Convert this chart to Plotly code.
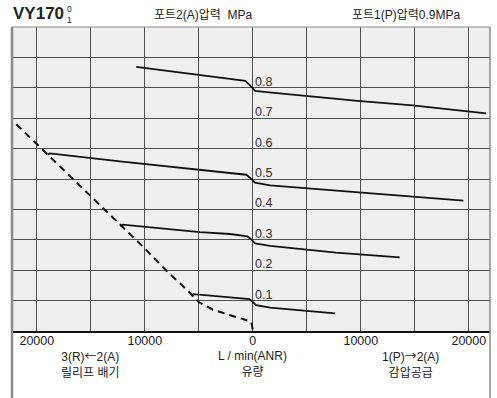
import plotly.graph_objects as go

# ---------------- data ----------------
# signed flow: negative = 3(R)<-2(A) relief exhaust, positive = 1(P)->2(A) supply
x_ticks = [-20000, -15000, -10000, -5000, 0, 5000, 10000, 15000, 20000]
x_tick_text = ["20000", "", "10000", "", "0", "", "10000", "", "20000"]

c08_x = [-10800, -5200, -700, -120, 200, 1500, 5000, 9700, 14800, 21600]
c08_y = [0.869, 0.844, 0.823, 0.803, 0.790, 0.785, 0.773, 0.757, 0.742, 0.716]

c05_x = [-19000, -18800, -12100, -4900, -2100, -600, -100, 200, 1600, 9700, 14800, 19500]
c05_y = [0.580, 0.584, 0.557, 0.530, 0.520, 0.514, 0.499, 0.488, 0.479, 0.456, 0.442, 0.429]

c03_x = [-12250, -12050, -4900, -2100, -500, -100, 200, 1600, 7700, 13600]
c03_y = [0.343, 0.350, 0.325, 0.319, 0.311, 0.300, 0.288, 0.280, 0.258, 0.242]

c01_x = [-5700, -5500, -300, 0, 300, 1600, 7600]
c01_y = [0.117, 0.121, 0.105, 0.095, 0.085, 0.077, 0.058]

relief_x = [-21900, -19400, -16800, -15100, -12000, -10100, -8000, -6000, -5000,
            -3700, -2100, -600, -150, 0]
relief_y = [0.680, 0.594, 0.506, 0.446, 0.341, 0.275, 0.198, 0.132, 0.095,
            0.070, 0.052, 0.035, 0.031, 0.003]

pressure_labels = [0.1, 0.2, 0.3, 0.4, 0.5, 0.6, 0.7, 0.8]

FONT = "Liberation Sans, Arial, Noto Sans CJK KR, sans-serif"
ARROW = "<span style=\"font-family:'Noto Sans CJK KR'\">{}</span>"

fig = go.Figure()
for xs, ys in [(c08_x, c08_y), (c05_x, c05_y), (c03_x, c03_y), (c01_x, c01_y)]:
    fig.add_trace(go.Scatter(x=xs, y=ys, mode="lines",
                             line=dict(color="#111111", width=1.8),
                             showlegend=False, hoverinfo="skip"))
fig.add_trace(go.Scatter(x=relief_x, y=relief_y, mode="lines",
                         line=dict(color="#111111", width=2, dash="7px,5px"),
                         showlegend=False, hoverinfo="skip"))

annotations = []
for v in pressure_labels:
    annotations.append(dict(x=0, y=v, xref="x", yref="y", text=f"{v:.1f}",
                            showarrow=False, xanchor="left", yanchor="bottom",
                            yshift=-3, font=dict(family=FONT, size=12.5, color="#333333")))

def pa(text, x, y, size=11, xanchor="center", bold=False):
    annotations.append(dict(x=x, y=y, xref="paper", yref="paper",
                            text=f"<b>{text}</b>" if bold else text,
                            showarrow=False, xanchor=xanchor, yanchor="middle",
                            font=dict(family=FONT, size=size, color="#222222")))

W, L = 478.0, 12.0
H, B = 304.0, 331.0
def px(xp): return (xp - L) / W
def py(yp): return (B - yp) / H

pa("VY170", px(11), py(14), size=17, xanchor="left", bold=True)
pa("0<br>1", px(69.5), py(14.5), size=8.5)
pa("포트2(A)압력  MPa", px(203), py(15), size=12)
pa("포트1(P)압력0.9MPa", px(406), py(15), size=12)
pa("3(R)" + ARROW.format("←") + "2(A)<br>릴리프 배기", px(90), py(363.5), size=12)
pa("L / min(ANR)<br>유량", px(252), py(363.5), size=12)
pa("1(P)" + ARROW.format("→") + "2(A)<br>감압공급", px(410), py(363.5), size=12)

shapes = [
    dict(type="line", xref="paper", yref="paper", x0=0, x1=0, y0=-0.3, y1=1,
         line=dict(color="#8a8a8a", width=2.5)),
    dict(type="line", xref="paper", yref="paper", x0=1, x1=1, y0=-0.3, y1=1,
         line=dict(color="#8a8a8a", width=1.5)),
    dict(type="line", xref="paper", yref="paper", x0=0, x1=1, y0=1, y1=1,
         line=dict(color="#8a8a8a", width=1.2)),
]

fig.update_layout(
    width=497, height=398,
    margin=dict(l=12, r=7, t=27, b=67),
    paper_bgcolor="white", plot_bgcolor="#efefef",
    annotations=annotations, shapes=shapes,
    font=dict(family=FONT, size=11, color="#222222"),
    xaxis=dict(range=[-22300, 21960], tickvals=x_ticks, ticktext=x_tick_text,
               showgrid=True, gridcolor="#505050", gridwidth=1, zeroline=False,
               showline=True, linecolor="#111111", linewidth=1.5, ticks="",
               ticklabelstandoff=-3,
               tickfont=dict(family=FONT, size=12.5, color="#222222"),
               fixedrange=True),
    yaxis=dict(range=[0, 1.0], dtick=0.1, tick0=0, showticklabels=False,
               showgrid=True, gridcolor="#505050", gridwidth=1, zeroline=False,
               showline=False, ticks="", fixedrange=True),
)

fig.write_html("out.html", config={"displayModeBar": False},
               post_script="document.body.style.margin='0';document.body.style.overflow='hidden';")
